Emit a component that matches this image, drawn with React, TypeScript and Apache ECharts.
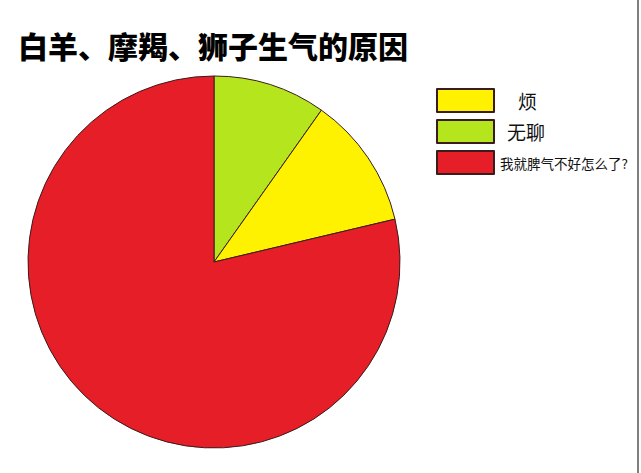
import { useEffect, useRef } from "react";
import * as echarts from "echarts";

const TITLE = "白羊、摩羯、狮子生气的原因";

// clockwise from 12 o'clock
const sliceNames = ["无聊", "烦", "我就脾气不好怎么了?"];
const sliceValues = [9.8, 11.5, 78.7];
const sliceColors = ["#b5e61d", "#fff200", "#e61e27"];

const legendOrder = ["烦", "无聊", "我就脾气不好怎么了?"];

const FONT = '"Noto Sans CJK SC", "Noto Sans", sans-serif';

export default function App() {
  const chartRef = useRef<HTMLDivElement | null>(null);

  useEffect(() => {
    const el = chartRef.current;
    if (!el) {
      return;
    }

    const chart = echarts.init(el, null, { renderer: "svg" });

    const data = sliceNames.map((name, i) => ({
      name,
      value: sliceValues[i],
      itemStyle: { color: sliceColors[i] },
    }));

    chart.setOption({
      animation: false,
      backgroundColor: "#ffffff",
      title: {
        text: TITLE,
        left: 13,
        top: 20,
        textStyle: {
          fontFamily: FONT,
          fontSize: 30,
          fontWeight: 900,
          color: "#000000",
          lineHeight: 40,
        },
      },
      legend: {
        orient: "vertical",
        left: 436,
        top: 88,
        padding: 0,
        itemWidth: 57,
        itemHeight: 23,
        itemGap: 6,
        icon: "rect",
        data: legendOrder,
        formatter: (name: string) => {
          if (name === "烦") {
            return `{big1|${name}}`;
          }
          if (name === "无聊") {
            return `{big2|${name}}`;
          }
          return `{small|${name}}`;
        },
        textStyle: {
          fontFamily: FONT,
          color: "#111111",
          rich: {
            big1: {
              fontFamily: FONT,
              fontSize: 19,
              lineHeight: 23,
              color: "#111111",
              padding: [0, 0, 0, 19],
            },
            big2: {
              fontFamily: FONT,
              fontSize: 19,
              lineHeight: 23,
              color: "#111111",
              padding: [0, 0, 0, 8],
            },
            small: {
              fontFamily: FONT,
              fontSize: 13.5,
              lineHeight: 23,
              color: "#111111",
              padding: [0, 0, 0, 1],
            },
          },
        },
      },
      graphic: [
        {
          type: "line",
          shape: { x1: 638, y1: 0, x2: 638, y2: 473 },
          style: { stroke: "#555555", lineWidth: 1.5 },
          silent: true,
        },
      ],
      series: [
        {
          type: "pie",
          center: [214, 262],
          radius: [0, 186],
          startAngle: 90,
          clockwise: true,
          label: { show: false },
          labelLine: { show: false },
          emphasis: { disabled: true },
          itemStyle: {
            borderColor: "#3a1c1c",
            borderWidth: 1,
          },
          data,
        },
      ],
    });

    return () => {
      chart.dispose();
    };
  }, []);

  return (
    <div
      ref={chartRef}
      style={{ position: "absolute", left: 0, top: 0, width: 641, height: 473 }}
    />
  );
}
